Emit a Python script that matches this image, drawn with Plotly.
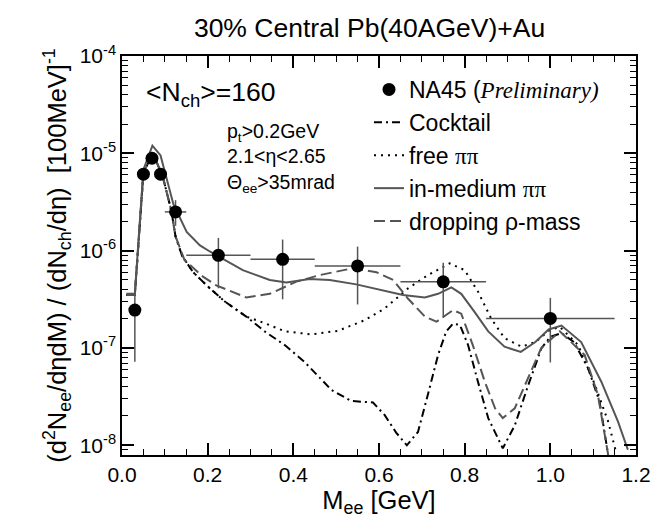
import plotly.graph_objects as go

# ---------------- data ----------------
data_x = [0.030, 0.050, 0.070, 0.090, 0.125, 0.225, 0.375, 0.550, 0.750, 1.000]
data_y = [2.45e-7, 6.1e-6, 8.9e-6, 6.1e-6, 2.5e-6, 8.95e-7, 8.15e-7, 6.97e-7, 4.78e-7, 2.01e-7]
data_xerr = [0.0, 0.0, 0.0, 0.0, 0.025, 0.075, 0.075, 0.10, 0.10, 0.15]
data_yhi = [3.5e-7, 7.0e-6, 1.0e-5, 7.0e-6, 3.3e-6, 1.35e-6, 1.30e-6, 1.10e-6, 7.5e-7, 3.27e-7]
data_ylo = [7.2e-8, 5.3e-6, 7.9e-6, 5.3e-6, 1.8e-6, 4.1e-7, 3.16e-7, 2.8e-7, 2.04e-7, 7.1e-8]

cocktail_x = [0.010, 0.030, 0.050, 0.072, 0.095, 0.115, 0.125, 0.140, 0.166, 0.200, 0.240, 0.290,
              0.333, 0.380, 0.426, 0.489, 0.535, 0.586, 0.613, 0.640, 0.665, 0.691, 0.714, 0.738,
              0.757, 0.773, 0.789, 0.808, 0.831, 0.855, 0.889, 0.917, 0.948, 0.979, 1.000, 1.026,
              1.055, 1.088, 1.115, 1.135]
cocktail_y = [3.5e-7, 3.5e-7, 6.3e-6, 1.0e-5, 5.8e-6, 2.6e-6, 1.4e-6, 8.9e-7, 6.0e-7, 4.3e-7, 3.0e-7, 2.1e-7,
              1.48e-7, 1.07e-7, 7.2e-8, 3.7e-8, 2.85e-8, 2.75e-8, 2.05e-8, 1.35e-8, 1.0e-8, 1.37e-8, 3.3e-8, 8.5e-8,
              1.48e-7, 1.78e-7, 1.72e-7, 1.07e-7, 4.5e-8, 1.9e-8, 9.3e-9, 1.6e-8, 4.1e-8, 9.9e-8, 1.3e-7, 1.42e-7,
              1.15e-7, 6.2e-8, 2.8e-8, 8.0e-9]

free_x = [0.010, 0.030, 0.050, 0.072, 0.095, 0.115, 0.125, 0.140, 0.166, 0.200, 0.240, 0.290,
          0.333, 0.380, 0.442, 0.504, 0.567, 0.613, 0.645, 0.668, 0.714, 0.765, 0.800, 0.831,
          0.862, 0.893, 0.933, 0.965, 0.996, 1.022, 1.065, 1.104, 1.135, 1.152]
free_y = [3.5e-7, 3.5e-7, 6.3e-6, 1.0e-5, 5.8e-6, 2.6e-6, 1.4e-6, 8.9e-7, 6.0e-7, 4.3e-7, 3.0e-7, 2.1e-7,
          1.8e-7, 1.48e-7, 1.38e-7, 1.5e-7, 1.93e-7, 2.54e-7, 3.35e-7, 4.1e-7, 5.6e-7, 7.4e-7, 6.3e-7, 3.8e-7,
          2.0e-7, 1.26e-7, 1.03e-7, 1.15e-7, 1.5e-7, 1.65e-7, 1.07e-7, 4.2e-8, 1.75e-8, 9.0e-9]

medium_x = [0.010, 0.030, 0.050, 0.071, 0.090, 0.120, 0.151, 0.182, 0.205, 0.228, 0.282, 0.345,
            0.384, 0.438, 0.485, 0.547, 0.609, 0.656, 0.707, 0.738, 0.769, 0.792, 0.823, 0.855,
            0.893, 0.931, 0.965, 0.996, 1.026, 1.072, 1.119, 1.158, 1.181]
medium_y = [3.6e-7, 3.6e-7, 6.8e-6, 1.2e-5, 9.5e-6, 3.0e-6, 1.56e-6, 1.13e-6, 9.8e-7, 8.6e-7, 6.3e-7, 5.0e-7,
            4.7e-7, 5.1e-7, 5.0e-7, 4.5e-7, 3.9e-7, 3.5e-7, 3.3e-7, 3.6e-7, 4.2e-7, 3.6e-7, 2.35e-7, 1.48e-7,
            1.03e-7, 9.1e-8, 1.15e-7, 1.55e-7, 1.7e-7, 1.15e-7, 4.5e-8, 1.75e-8, 9.0e-9]

drop_x = [0.010, 0.030, 0.050, 0.072, 0.095, 0.115, 0.125, 0.146, 0.189, 0.220, 0.290, 0.345,
          0.407, 0.461, 0.539, 0.594, 0.633, 0.668, 0.707, 0.734, 0.773, 0.792, 0.819, 0.847,
          0.871, 0.889, 0.917, 0.948, 0.979, 1.022, 1.080, 1.111, 1.135]
drop_y = [3.5e-7, 3.5e-7, 6.3e-6, 1.0e-5, 5.8e-6, 2.6e-6, 1.4e-6, 8.0e-7, 5.4e-7, 4.4e-7, 3.3e-7, 3.6e-7,
          4.8e-7, 5.6e-7, 6.6e-7, 6.0e-7, 5.0e-7, 3.2e-7, 2.1e-7, 1.86e-7, 2.45e-7, 2.25e-7, 1.07e-7, 4.5e-8,
          2.4e-8, 1.9e-8, 2.4e-8, 4.9e-8, 1.0e-7, 1.48e-7, 8.5e-8, 3.3e-8, 8.0e-9]

x_ticks = [0.0, 0.2, 0.4, 0.6, 0.8, 1.0, 1.2]
x_ticklabels = ["0.0", "0.2", "0.4", "0.6", "0.8", "1.0", "1.2"]
y_ticks = [1e-8, 1e-7, 1e-6, 1e-5, 1e-4]
y_ticklabels = ["10<sup>-8</sup>", "10<sup>-7</sup>", "10<sup>-6</sup>", "10<sup>-5</sup>", "10<sup>-4</sup>"]

FONT = "Liberation Sans, Arial, Helvetica, sans-serif"
SERIF = "Liberation Serif"
GRAY = "#555555"

y_plus = [h - v for h, v in zip(data_yhi, data_y)]
y_minus = [v - l for l, v in zip(data_ylo, data_y)]
minor_y = [m * 10.0 ** e for e in range(-9, -4) for m in range(2, 10)]

fig = go.Figure()

fig.add_trace(go.Scatter(x=cocktail_x, y=cocktail_y, mode="lines", name="Cocktail", legendrank=2,
                         line=dict(color="black", width=2, dash="8px,4px,2px,4px")))
fig.add_trace(go.Scatter(x=free_x, y=free_y, mode="lines",
                         name="free <span style='font-family:%s'>ππ</span>" % SERIF, legendrank=3,
                         line=dict(color="black", width=2, dash="2px,5px")))
fig.add_trace(go.Scatter(x=medium_x, y=medium_y, mode="lines",
                         name="in-medium <span style='font-family:%s'>ππ</span>" % SERIF, legendrank=4,
                         line=dict(color=GRAY, width=2)))
fig.add_trace(go.Scatter(x=drop_x, y=drop_y, mode="lines", name="dropping ρ-mass", legendrank=5,
                         line=dict(color=GRAY, width=2, dash="11px,5px")))
fig.add_trace(go.Scatter(
    x=data_x, y=data_y, mode="markers", legendrank=1,
    name="NA45 (<span style='font-family:%s'><i>Preliminary)</i></span>" % SERIF,
    marker=dict(color="black", size=13, symbol="circle"),
    error_x=dict(type="data", array=data_xerr, color=GRAY, thickness=1.5, width=0),
    error_y=dict(type="data", array=y_plus, arrayminus=y_minus, symmetric=False,
                 color=GRAY, thickness=1.5, width=0),
))

T, B = 48, 447


def px_to_paper_x(px):
    return (px - 114) / 514.0


def py_to_paper_y(py):
    return 1 - (py - T) / float(B - T)


fig.update_layout(
    width=661, height=518,
    margin=dict(l=114, r=33, t=T, b=518 - B, autoexpand=False),
    paper_bgcolor="white", plot_bgcolor="white",
    font=dict(family=FONT, size=21, color="black"),
    title=dict(text="30% Central Pb(40AGeV)+Au", x=0.547, xanchor="center", xref="container",
               y=1 - 20 / 518.0, yanchor="middle", yref="container", font=dict(size=26.5)),
    showlegend=True,
    legend=dict(x=px_to_paper_x(361), xanchor="left", y=py_to_paper_y(60), yanchor="top",
                bgcolor="rgba(0,0,0,0)", font=dict(size=23), itemwidth=30, tracegroupgap=0),
)

fig.add_annotation(text="&lt;N<sub>ch</sub>&gt;=160", x=px_to_paper_x(136), y=py_to_paper_y(86),
                   xref="paper", yref="paper", showarrow=False, font=dict(size=26.5),
                   xanchor="left", yanchor="middle")
fig.add_annotation(text="p<sub>t</sub>&gt;0.2GeV<br>2.1&lt;η&lt;2.65<br>Θ<sub>ee</sub>&gt;35mrad",
                   x=px_to_paper_x(217), y=py_to_paper_y(150),
                   xref="paper", yref="paper", showarrow=False, font=dict(size=19.5),
                   xanchor="left", yanchor="middle", align="left")

fig.update_xaxes(
    range=[0, 1.2], tickvals=x_ticks, ticktext=x_ticklabels, automargin=False,
    ticks="inside", ticklen=12, tickwidth=1.5, tickcolor="black",
    showline=True, linecolor="black", linewidth=1.5, mirror="allticks",
    showgrid=False, zeroline=False,
    minor=dict(dtick=0.05, tick0=0, ticks="inside", ticklen=6, tickwidth=1.2, tickcolor="black", showgrid=False),
    title=dict(text="M<sub>ee</sub> [GeV]", font=dict(size=25.5), standoff=6),
    tickfont=dict(size=21),
)
fig.update_yaxes(
    type="log", range=[-8.1, -4], tickvals=y_ticks, ticktext=y_ticklabels, automargin=False,
    ticks="inside", ticklen=12, tickwidth=1.5, tickcolor="black",
    showline=True, linecolor="black", linewidth=1.5, mirror="allticks",
    showgrid=False, zeroline=False,
    minor=dict(tickvals=minor_y, ticks="inside", ticklen=6, tickwidth=1.2, tickcolor="black", showgrid=False),
    title=dict(text="(d<sup>2</sup>N<sub>ee</sub>/dηdM) / (dN<sub>ch</sub>/dη)  [100MeV]<sup>-1</sup>",
               font=dict(size=25.5), standoff=6),
    tickfont=dict(size=21),
)

fig.write_html("out.html")
